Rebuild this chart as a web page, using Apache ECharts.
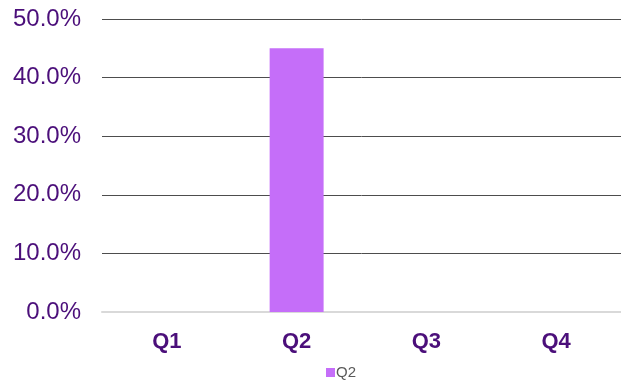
<!DOCTYPE html>
<html>
<head>
<meta charset="utf-8">
<script src="https://cdn.jsdelivr.net/npm/echarts@6/dist/echarts.min.js"></script>
<style>
  html, body { margin: 0; padding: 0; background: #fff; }
  #chart { width: 621px; height: 387px; }
</style>
</head>
<body>
<div id="chart"></div>
<script>
// Quarterly share, only Q2 has a value
const categories = ['Q1', 'Q2', 'Q3', 'Q4'];
const seriesName = 'Q2';
const seriesValues = [null, 45.0, null, null];

const chart = echarts.init(document.getElementById('chart'));
chart.setOption({
  animation: false,
  textStyle: { fontFamily: 'Liberation Sans, Arial, sans-serif' },
  grid: { left: 102, right: 0, top: 19, bottom: 75 },
  xAxis: {
    type: 'category',
    data: categories,
    axisTick: { show: false },
    axisLine: { lineStyle: { color: '#d9d9d9', width: 2 } },
    axisLabel: { color: '#4b0f7a', fontWeight: 'bold', fontSize: 22, margin: 19 }
  },
  yAxis: {
    type: 'value',
    min: 0, max: 50, interval: 10,
    axisLine: { show: false },
    axisTick: { show: false },
    splitLine: { lineStyle: { color: '#4d4d4d', width: 1 } },
    axisLabel: {
      color: '#4b0f7a', fontSize: 24, margin: 21,
      formatter: v => v.toFixed(1) + '%'
    }
  },
  legend: {
    bottom: 2, left: 321,
    itemWidth: 9, itemHeight: 9, itemGap: 4,
    icon: 'rect',
    textStyle: { color: '#595959', fontSize: 15, padding: [0, 0, 0, -4] },
    data: [seriesName]
  },
  series: [{
    name: seriesName,
    type: 'bar',
    data: seriesValues,
    barWidth: '41.6%',
    itemStyle: { color: '#c56ef9' }
  }]
});
</script>
</body>
</html>
